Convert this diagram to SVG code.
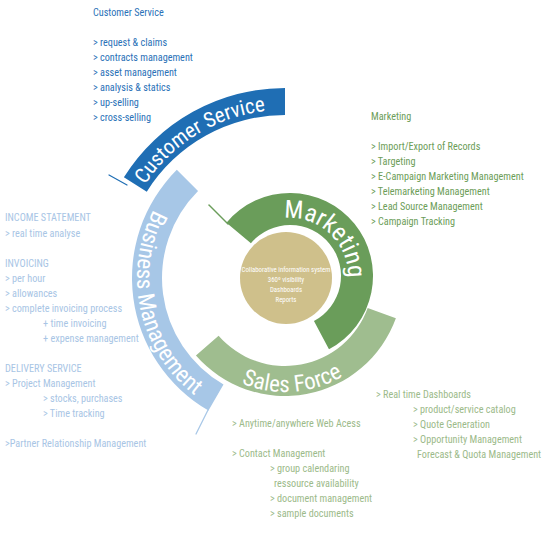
<svg xmlns="http://www.w3.org/2000/svg" width="548" height="537" viewBox="0 0 548 537">
<style>
  text { font-family: 'Liberation Sans Narrow', 'Roboto Condensed', 'DejaVu Sans Condensed', 'Liberation Sans', sans-serif; }
  .lbl { font-size: 10.2px; }
  .cs { fill: #2a71b7; }
  .mk { fill: #6c9d58; }
  .bm { fill: #a8c5e5; }
  .sf { fill: #9cba8a; }
  .arc { fill: #ffffff; }
  .ctr { fill: #ffffff; font-size: 6.8px; text-anchor: middle; }
</style>
<defs>
  <path id="p-cs" d="M125.22,226.09 A167,167 0 0 1 311.28,112.07"/>
  <path id="p-mk" d="M261,225.77 A58,58 0 0 1 342.13,301.43"/>
  <path id="p-bm" d="M163.76,193.11 A148,148 0 0 0 211,406.17"/>
  <path id="p-sf" d="M197.67,351.28 A114,114 0 0 0 381.67,338.41"/>
</defs>
<rect width="548" height="537" fill="#ffffff"/>

<g id="connectors" stroke-linecap="round">
  <line x1="109" y1="175" x2="127" y2="185" stroke="#1f6eb4" stroke-width="1.2"/>
  <line x1="209" y1="205" x2="228" y2="224" stroke="#6b9d5b" stroke-width="1.5"/>
  <line x1="208" y1="410" x2="196" y2="434" stroke="#a7c7e7" stroke-width="1.2"/>
</g>

<g id="customer-service">
  <path d="M123.88,177.32 A190,190 0 0 1 285,88 L285,115 A163,163 0 0 0 146.78,191.63 Z" fill="#1f6eb4"/>
  <text class="arc" font-size="21"><textPath href="#p-cs" startOffset="50%" text-anchor="middle">Customer Service</textPath></text>
  <g class="lbl cs">
    <text x="93" y="16">Customer Service</text>
    <text x="93" y="46">&gt; request &amp; claims</text>
    <text x="93" y="61">&gt; contracts management</text>
    <text x="93" y="76">&gt; asset management</text>
    <text x="93" y="91">&gt; analysis &amp; statics</text>
    <text x="93" y="106">&gt; up-selling</text>
    <text x="93" y="121">&gt; cross-selling</text>
  </g>
</g>

<g id="business-management">
  <path d="M208.5,410.5 A153,153 0 0 1 176.81,169.81 L198.03,191.03 A123,123 0 0 0 223.5,384.52 Z" fill="#a7c7e7"/>
  <text class="arc" font-size="23"><textPath href="#p-bm" startOffset="50%" text-anchor="middle">Business Management</textPath></text>
  <g class="lbl bm">
    <text x="5" y="221">INCOME STATEMENT</text>
    <text x="5" y="237">&gt; real time analyse</text>
    <text x="5" y="267">INVOICING</text>
    <text x="5" y="282">&gt; per hour</text>
    <text x="5" y="297">&gt; allowances</text>
    <text x="5" y="312">&gt; complete invoicing process</text>
    <text x="43" y="327">+ time invoicing</text>
    <text x="43" y="342">+ expense management</text>
    <text x="5" y="372">DELIVERY SERVICE</text>
    <text x="5" y="387">&gt; Project Management</text>
    <text x="43" y="402">&gt; stocks, purchases</text>
    <text x="43" y="417">&gt; Time tracking</text>
    <text x="5" y="447">&gt;Partner Relationship Management</text>
  </g>
</g>

<g id="sales-force">
  <path d="M395.88,318.36 A118,118 0 0 1 195.94,355.42 L218.59,335.74 A88,88 0 0 0 367.69,308.10 Z" fill="#9fbd8f"/>
  <text class="arc" font-size="23"><textPath href="#p-sf" startOffset="50%" text-anchor="middle">Sales Force</textPath></text>
  <g class="lbl sf">
    <text x="376" y="398">&gt; Real time Dashboards</text>
    <text x="413" y="413">&gt; product/service catalog</text>
    <text x="413" y="428">&gt; Quote Generation</text>
    <text x="413" y="443">&gt; Opportunity Management</text>
    <text x="417" y="458">Forecast &amp; Quota Management</text>
    <text x="232" y="427">&gt; Anytime/anywhere Web Acess</text>
    <text x="232" y="457">&gt; Contact Management</text>
    <text x="270" y="472">&gt; group calendaring</text>
    <text x="274" y="487">ressource availability</text>
    <text x="270" y="502">&gt; document management</text>
    <text x="270" y="517">&gt; sample documents</text>
  </g>
</g>

<g id="marketing">
  <path d="M226.42,222.65 A83,83 0 1 1 328.97,349.28 L313.94,321.03 A51,51 0 1 0 250.93,243.22 Z" fill="#6a9d5a"/>
  <text class="arc" font-size="25"><textPath href="#p-mk" startOffset="50%" text-anchor="middle">Marketing</textPath></text>
  <g class="lbl mk">
    <text x="371" y="120">Marketing</text>
    <text x="371" y="150">&gt; Import/Export of Records</text>
    <text x="371" y="165">&gt; Targeting</text>
    <text x="371" y="180">&gt; E-Campaign Marketing Management</text>
    <text x="371" y="195">&gt; Telemarketing Management</text>
    <text x="371" y="210">&gt; Lead Source Management</text>
    <text x="371" y="225">&gt; Campaign Tracking</text>
  </g>
</g>

<g id="core">
  <circle cx="286" cy="278" r="46" fill="#cfc08b"/>
  <text class="ctr" x="286" y="272">Collaborative information system</text>
  <text class="ctr" x="286" y="282">360º visibility</text>
  <text class="ctr" x="286" y="292">Dashboards</text>
  <text class="ctr" x="286" y="302">Reports</text>
</g>
</svg>
